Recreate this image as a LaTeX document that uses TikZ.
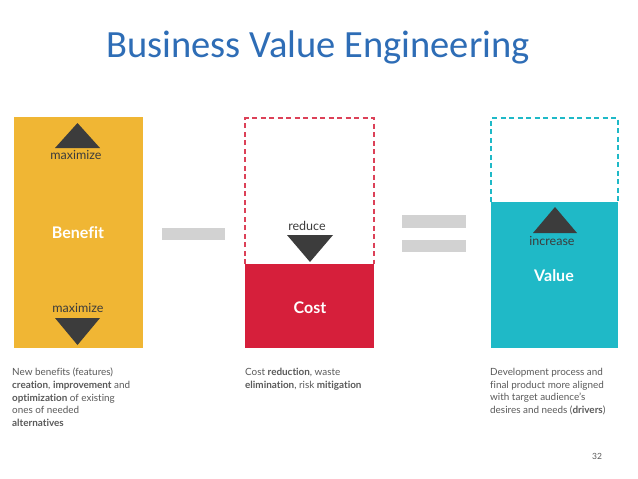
\documentclass[tikz,border=0pt]{standalone}
\usepackage{fontspec}
\setmainfont{Lato}[Ligatures=NoCommon]
\newfontfamily\titlefont{Carlito}
\usetikzlibrary{shapes.geometric}
\definecolor{titleblue}{HTML}{2E6DB6}
\definecolor{benefitc}{HTML}{F0B634}
\definecolor{costc}{HTML}{D61F3B}
\definecolor{valuec}{HTML}{1FB9C7}
\definecolor{trig}{HTML}{3C3C3C}
\definecolor{barc}{HTML}{D2D2D2}
\definecolor{bodyc}{HTML}{5A5A5A}
\tikzset{
  x=1pt,y=-1pt,
  tri/.style={fill=trig},
  boxlabel/.style={text=white,font=\fontsize{16}{18}\selectfont\bfseries,inner sep=0},
  smalllabel/.style={font=\fontsize{12.5}{14}\selectfont,inner sep=0},
  desc/.style={anchor=north west,align=left,text=bodyc,inner sep=0,
    font=\fontsize{9.9}{12.6}\selectfont},
  bar/.style={fill=barc,draw=none},
  dashbox/.style={line width=1.4pt,dash pattern=on 5pt off 3.5pt},
}
\begin{document}
\begin{tikzpicture}
\useasboundingbox (0,0) rectangle (638,479);
\fill[white] (0,0) rectangle (638,479);
% title
\node[text=titleblue,font=\titlefont\fontsize{38.5}{42}\selectfont] (title) at (318,47) {Business Value Engineering};
% Benefit
\fill[benefitc] (14,117) rectangle (143,348);
\fill[tri] (55,148) -- (77.5,123) -- (100,148) -- cycle;
\node[smalllabel,text=trig] (max1) at (76,155) {maximize};
\node[boxlabel] (benefit) at (78,233) {Benefit};
\node[smalllabel,text=trig] (max2) at (78,308) {maximize};
\fill[tri] (55,318) -- (77.5,345) -- (100,318) -- cycle;
% minus
\fill[bar] (162,228) rectangle (225,240);
% Cost
\draw[dashbox,draw=costc!85] (245,264) -- (245,118) -- (374,118) -- (374,264);
\fill[costc] (245,264) rectangle (374,348);
\node[smalllabel,text=trig] (reduce) at (307,226) {reduce};
\fill[tri] (287,235) -- (310,262) -- (333,235) -- cycle;
\node[boxlabel] (cost) at (310,308) {Cost};
% equals
\fill[bar] (402,215) rectangle (466,228);
\fill[bar] (402,240) rectangle (466,252);
% Value
\draw[dashbox,draw=valuec] (491,202) -- (491,118) -- (618,118) -- (618,202);
\fill[valuec] (491,202) rectangle (618,348);
\fill[tri] (533,233) -- (555,207) -- (577,233) -- cycle;
\node[smalllabel,text=trig] (increase) at (552,241) {increase};
\node[boxlabel] (value) at (554,276) {Value};
% descriptions
\node[desc] (d1) at (12,368) {New benefits (features)\\\textbf{creation}, \textbf{improvement} and\\\textbf{optimization} of existing\\ones of needed\\\textbf{alternatives}};
\node[desc] (d2) at (245,368) {Cost \textbf{reduction}, waste\\\textbf{elimination}, risk \textbf{mitigation}};
\node[desc] (d3) at (490,368) {Development process and\\final product more aligned\\with target audience's\\desires and needs (\textbf{drivers})};
\node[text=bodyc,font=\fontsize{8.5}{10}\selectfont,inner sep=0] (page) at (597,456) {32};
\end{tikzpicture}
\end{document}
